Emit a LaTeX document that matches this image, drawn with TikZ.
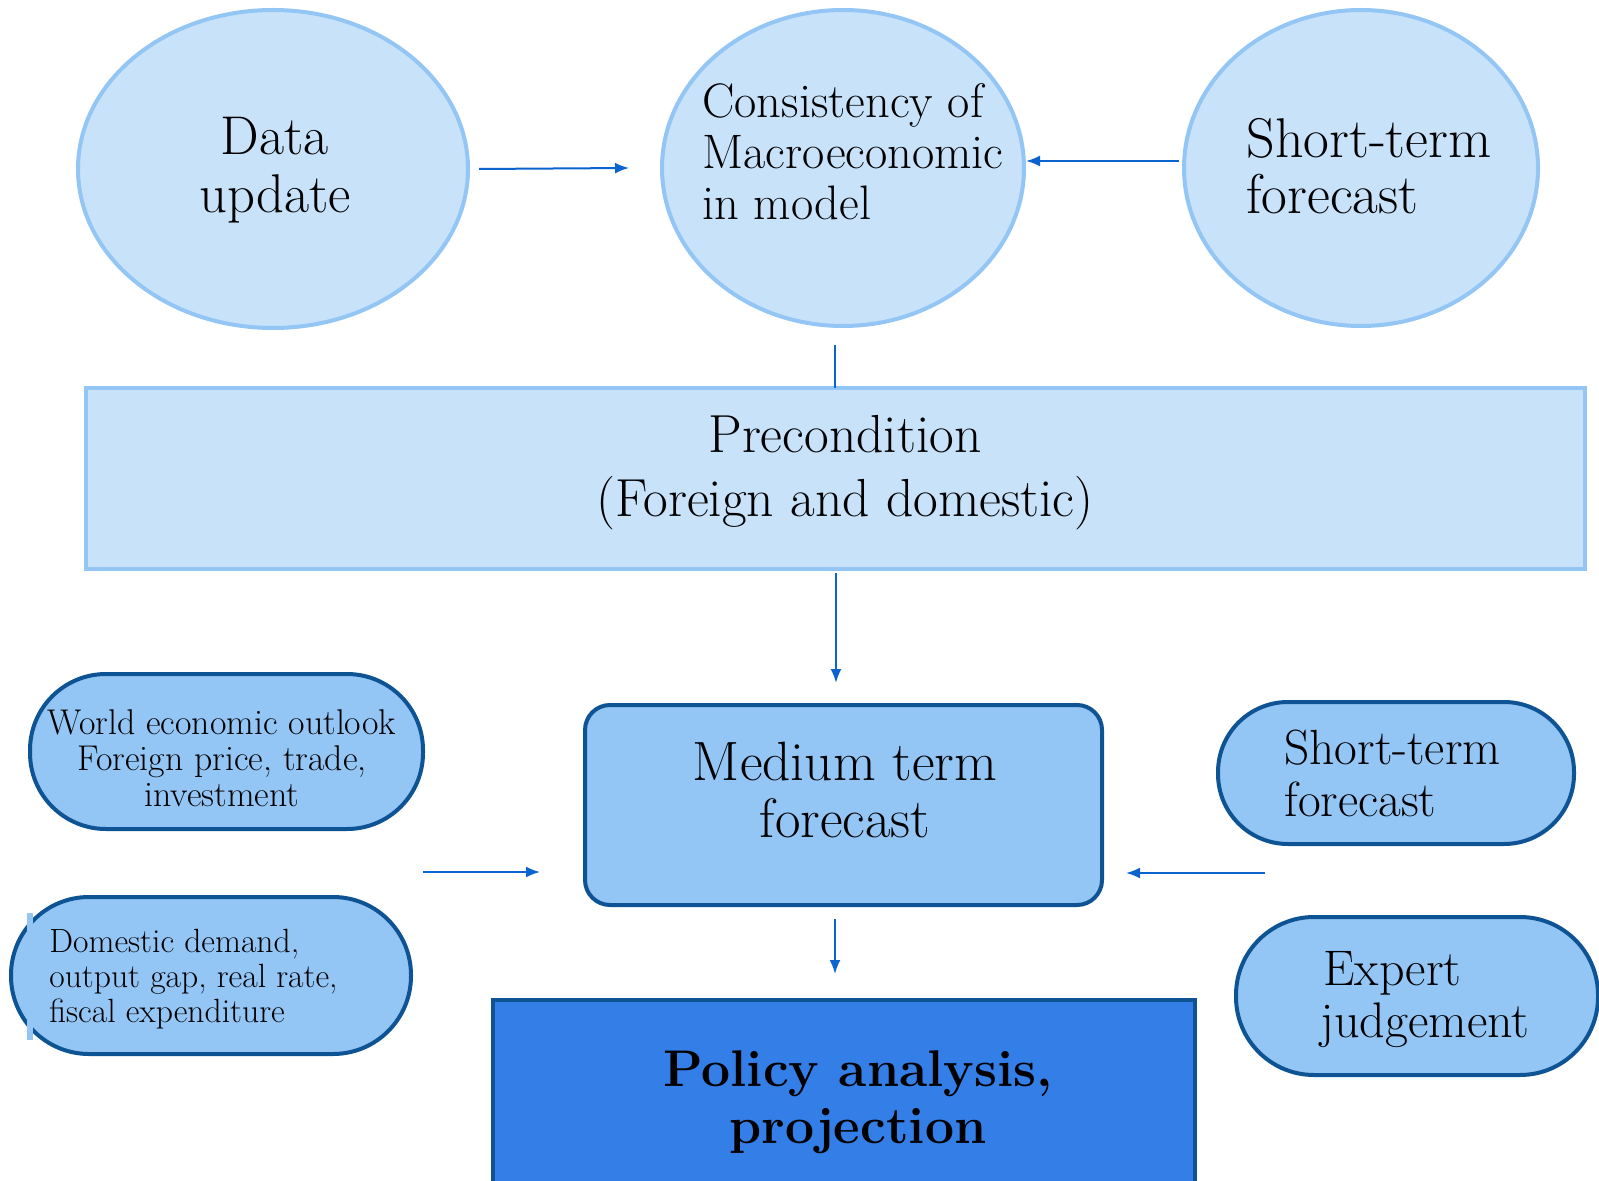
\documentclass[tikz,border=0pt]{standalone}
\usetikzlibrary{shapes.geometric,arrows.meta}
\definecolor{lightfill}{HTML}{C8E2FA}
\definecolor{lightline}{HTML}{93C5F5}
\definecolor{pillfill}{HTML}{93C5F5}
\definecolor{darkline}{HTML}{0E5394}
\definecolor{policyfill}{HTML}{347EE8}
\definecolor{arrowcol}{HTML}{0B63CE}
\tikzset{
  oval/.style={ellipse, draw=lightline, fill=lightfill, line width=2pt, inner sep=0pt},
  pill/.style={rectangle, draw=darkline, fill=pillfill, line width=2pt, inner sep=0pt},
  txt/.style={inner sep=0pt, text=black},
  arr/.style={draw=arrowcol, line width=1pt, -{Latex[length=7pt,width=5.5pt]}},
  plain/.style={draw=arrowcol, line width=1pt}
}
\begin{document}
\begin{tikzpicture}[x=0.5pt,y=-0.5pt]
\useasboundingbox (0,0) rectangle (1599,1181);
% top ellipses
\node[oval, minimum width=195pt, minimum height=159pt] (e1) at (273,169) {};
\node[oval, minimum width=181pt, minimum height=158pt] (e2) at (843,168) {};
\node[oval, minimum width=177pt, minimum height=158pt] (e3) at (1361,168) {};
\node[txt, align=center, font=\fontsize{27.3}{29}\selectfont] (t1) at (275,170) {Data\\update};
\node[txt, align=left, anchor=west, font=\fontsize{24.2}{25.5}\selectfont] (t2) at (702,152) {Consistency of\\Macroeconomic\\in model};
\node[txt, align=left, anchor=west, font=\fontsize{28}{28}\selectfont] (t3) at (1246,166) {Short-term\\forecast};
% precondition
\node[rectangle, draw=lightline, fill=lightfill, line width=2pt, minimum width=749.5pt, minimum height=90.5pt, inner sep=0pt] (pre) at (835.5,478.5) {};
\node[txt, align=center, font=\fontsize{26.8}{32}\selectfont] (tpre) at (845,473) {Precondition\\(Foreign and domestic)};
% medium term
\node[pill, rounded corners=12.5pt, minimum width=258.5pt, minimum height=100pt] (med) at (843.5,805) {};
\node[txt, align=center, font=\fontsize{27.7}{28.5}\selectfont] (tmed) at (845,790) {Medium term\\forecast};
% left pills
\node[pill, rounded corners=38pt, minimum width=196.5pt, minimum height=77.5pt] (wo) at (226.5,751.5) {};
\node[txt, align=center, font=\fontsize{17.9}{18}\selectfont] (two) at (222,758) {World economic outlook\\Foreign price, trade,\\investment};
\node[pill, rounded corners=39pt, minimum width=200pt, minimum height=78.5pt] (dom) at (211,975.5) {};
\fill[pillfill] (27,913) rectangle (33,1040);
\node[txt, align=left, anchor=west, font=\fontsize{16.8}{17.5}\selectfont] (tdom) at (49,979) {Domestic demand,\\output gap, real rate,\\fiscal expenditure};
% right pills
\node[pill, rounded corners=35pt, minimum width=178pt, minimum height=71pt] (st) at (1396,773) {};
\node[txt, align=left, anchor=west, font=\fontsize{24.7}{26}\selectfont] (tst) at (1284,773) {Short-term\\forecast};
\node[pill, rounded corners=39pt, minimum width=181pt, minimum height=79pt] (ex) at (1417,996) {};
\node[txt, align=left, anchor=west, font=\fontsize{25}{26}\selectfont] (tex) at (1320,1000) {\hspace*{1.5pt}Expert\\judgement};
% policy
\node[rectangle, draw=darkline, fill=policyfill, line width=2pt, minimum width=351pt, minimum height=100pt, inner sep=0pt] (pol) at (844,1100) {};
\node[txt, align=center, font=\fontsize{25.8}{28.5}\selectfont\bfseries] (tpol) at (858,1102) {Policy analysis,\\projection};
% connector coordinates
\coordinate (a1s) at (479,169); \coordinate (a1e) at (629,168);
\coordinate (a2s) at (1179,161); \coordinate (a2e) at (1026,161);
\coordinate (l3s) at (835,345); \coordinate (l3e) at (835,388);
\coordinate (a4s) at (836,573); \coordinate (a4e) at (836,683);
\coordinate (a5s) at (423,872); \coordinate (a5e) at (540,872);
\coordinate (a6s) at (1265,873); \coordinate (a6e) at (1126,873);
\coordinate (a7s) at (835,919); \coordinate (a7e) at (835,974);
\draw[arr] (a1s) -- (a1e);
\draw[arr] (a2s) -- (a2e);
\draw[plain] (l3s) -- (l3e);
\draw[arr] (a4s) -- (a4e);
\draw[arr] (a5s) -- (a5e);
\draw[arr] (a6s) -- (a6e);
\draw[arr] (a7s) -- (a7e);
\end{tikzpicture}
\end{document}
